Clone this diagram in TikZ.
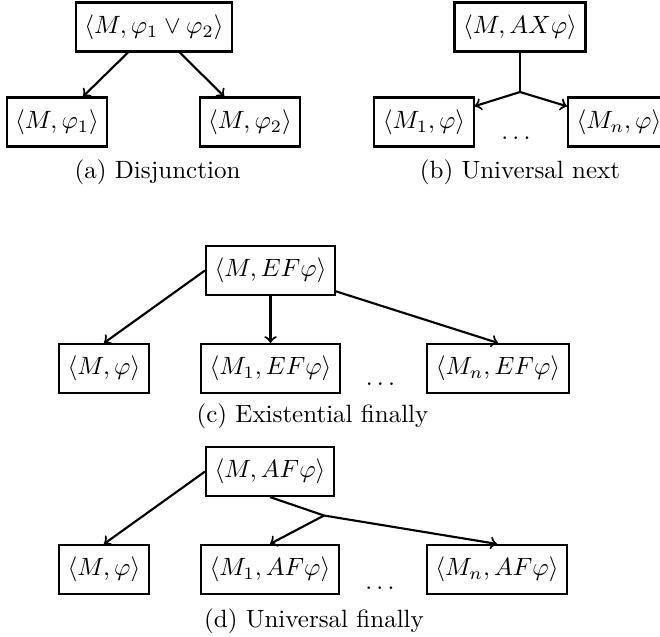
\documentclass[tikz,border=0pt]{standalone}
\usepackage{amsmath}
\begin{document}
\begin{tikzpicture}[x=0.4pt,y=-0.4pt,
  state/.style={draw,line width=0.85pt,minimum height=19.6pt,inner xsep=3.4pt,inner ysep=0pt},
  edge/.style={->,line width=0.85pt},
  link/.style={line width=0.85pt},
  caption/.style={anchor=base,inner sep=0pt}]
\useasboundingbox (0,0) rectangle (660,636);
\clip (0,0) rectangle (660,636);

% (a) disjunction
\node[state] (a0) at (154,27) {$\langle M,\varphi_1\vee\varphi_2\rangle$};
\node[state] (a1) at (57,122) {$\langle M,\varphi_1\rangle$};
\node[state] (a2) at (250,122) {$\langle M,\varphi_2\rangle$};
\draw[edge] (a0) -- (a1);
\draw[edge] (a0) -- (a2);
\node[caption] (acap) at (157.5,178.5) {(a) Disjunction};

% (b) universal next
\node[state] (b0) at (520,27) {$\langle M,AX\varphi\rangle$};
\node[state] (b1) at (424,122) {$\langle M_1,\varphi\rangle$};
\node[state,anchor=west] (bn) at (567,122) {$\langle M_n,\varphi\rangle$};
\coordinate (bj) at (520,92);
\draw[link] (b0) -- (bj);
\draw[edge] (bj) -- (b1);
\draw[edge] (bj) -- (bn);
\node[caption] (bdots) at (518,139) {$\dots$};
\node[caption] (bcap) at (520,178.5) {(b) Universal next};

% (c) existential finally
\node[state] (c0) at (270.5,270.5) {$\langle M,EF\varphi\rangle$};
\node[state] (c1) at (104,368.5) {$\langle M,\varphi\rangle$};
\node[state] (c2) at (270.5,368.5) {$\langle M_1,EF\varphi\rangle$};
\node[state] (c3) at (498,368.5) {$\langle M_n,EF\varphi\rangle$};
\draw[edge] (c0.west) -- (c1.north);
\draw[edge] (c0) -- (c2);
\draw[edge] (c0) -- (c3.north);
\node[caption] (cdots) at (382.5,385) {$\dots$};
\node[caption] (ccap) at (312.5,422) {(c) Existential finally};

% (d) universal finally
\node[state] (d0) at (270,471.5) {$\langle M,AF\varphi\rangle$};
\node[state] (d1) at (104,569.5) {$\langle M,\varphi\rangle$};
\node[state] (d2) at (270,569.5) {$\langle M_1,AF\varphi\rangle$};
\node[state] (d3) at (497,569.5) {$\langle M_n,AF\varphi\rangle$};
\coordinate (dj) at (324,515.5);
\draw[edge] (d0.west) -- (d1.north);
\draw[link] (d0.south) -- (dj);
\draw[edge] (dj) -- (d2.north);
\draw[edge] (dj) -- (d3.north);
\node[caption] (ddots) at (382,589) {$\dots$};
\node[caption] (dcap) at (314,627) {(d) Universal finally};
\end{tikzpicture}
\end{document}
